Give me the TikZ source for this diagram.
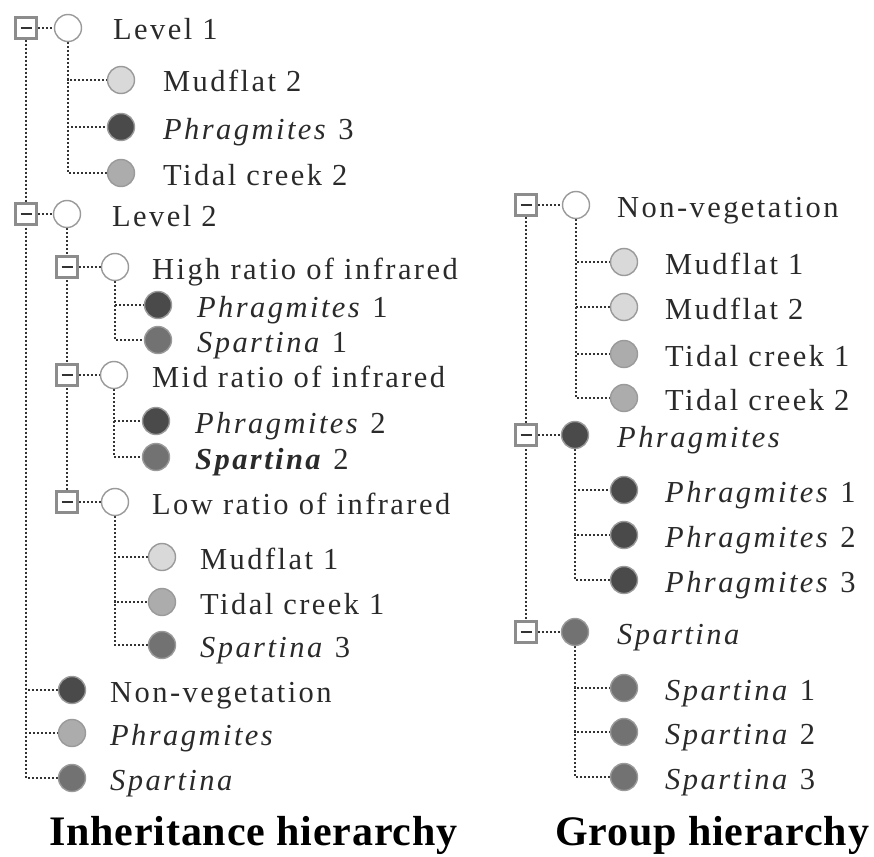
\documentclass[tikz,border=0pt]{standalone}
\usepackage{fontspec}
\setmainfont{Liberation Serif}[LetterSpace=8]
\newfontfamily\titlefont{Liberation Serif}[LetterSpace=2]
\usetikzlibrary{backgrounds}
\definecolor{txt}{HTML}{2A2A2A}
\definecolor{boxgray}{HTML}{8C8C8C}
\definecolor{circgray}{HTML}{9A9A9A}
\definecolor{connc}{HTML}{333333}
\definecolor{cwhite}{HTML}{FFFFFF}
\definecolor{clight}{HTML}{D9D9D9}
\definecolor{cmid}{HTML}{ACACAC}
\definecolor{cdark}{HTML}{4A4A4A}
\definecolor{cspart}{HTML}{727272}
\tikzset{
  minusbox/.style={draw=boxgray, line width=2.6pt, fill=white, minimum size=21pt, inner sep=0pt,
    path picture={\draw[line width=2.4pt, draw=black!80]
      ([xshift=-5.5pt]path picture bounding box.center) -- ([xshift=5.5pt]path picture bounding box.center);}},
  dot/.style={circle, minimum size=27pt, inner sep=0pt, draw=circgray, line width=1.4pt, fill=#1},
  conn/.style={draw=connc, line width=2pt, dash pattern=on 2pt off 2pt},
  lbl/.style={anchor=base west, inner sep=0pt, text=txt, font=\fontsize{30.5}{36}\selectfont},
  ttl/.style={anchor=base west, inner sep=0pt, text=black, font=\fontsize{42}{50}\selectfont\titlefont\bfseries}
}
\begin{document}
\begin{tikzpicture}[x=1pt,y=-1pt]
\useasboundingbox (0,0) rectangle (874,856);
% ---------- Inheritance hierarchy ----------
\node[minusbox] (b1) at (26,28) {};
\node[dot=cwhite] (c1) at (68,28) {};
\node[lbl] (tL1) at (113,40) {Level 1};
\node[dot=clight] (a1) at (121,80) {};
\node[lbl] (ta1) at (163,92) {Mudflat 2};
\node[dot=cdark] (a2) at (121,127) {};
\node[lbl] (ta2) at (163,139) {\itshape Phragmites\/ \upshape 3};
\node[dot=cmid] (a3) at (121,173) {};
\node[lbl] (ta3) at (163,185) {Tidal creek 2};

\node[minusbox] (b2) at (26,214) {};
\node[dot=cwhite] (c2) at (67,214) {};
\node[lbl] (tL2) at (112,226) {Level 2};

\node[minusbox] (bh) at (67,267) {};
\node[dot=cwhite] (ch) at (115,267) {};
\node[lbl] (th) at (152,279) {High ratio of infrared};
\node[dot=cdark] (h1) at (158,305) {};
\node[lbl] (th1) at (197,317) {\itshape Phragmites\/ \upshape 1};
\node[dot=cspart] (h2) at (158,340) {};
\node[lbl] (th2) at (197,352) {\itshape Spartina\/ \upshape 1};

\node[minusbox] (bm) at (67,375) {};
\node[dot=cwhite] (cm) at (114,375) {};
\node[lbl] (tm) at (152,387) {Mid ratio of infrared};
\node[dot=cdark] (m1) at (156,421) {};
\node[lbl] (tm1) at (195,433) {\itshape Phragmites\/ \upshape 2};
\node[dot=cspart] (m2) at (156,457) {};
\node[lbl] (tm2) at (195,469) {\bfseries\itshape Spartina\/ \mdseries\upshape 2};

\node[minusbox] (bl) at (67,502) {};
\node[dot=cwhite] (cl) at (115,502) {};
\node[lbl] (tl) at (152,514) {Low ratio of infrared};
\node[dot=clight] (l1) at (162,557) {};
\node[lbl] (tl1) at (200,569) {Mudflat 1};
\node[dot=cmid] (l2) at (162,602) {};
\node[lbl] (tl2) at (200,614) {Tidal creek 1};
\node[dot=cspart] (l3) at (162,645) {};
\node[lbl] (tl3) at (200,657) {\itshape Spartina\/ \upshape 3};

\node[dot=cdark] (n1) at (72,690) {};
\node[lbl] (tn1) at (110,702) {Non-vegetation};
\node[dot=cmid] (n2) at (72,733) {};
\node[lbl] (tn2) at (110,745) {\itshape Phragmites};
\node[dot=cspart] (n3) at (72,778) {};
\node[lbl] (tn3) at (110,790) {\itshape Spartina};

\node[ttl] (tit1) at (49,845) {Inheritance hierarchy};

% ---------- Group hierarchy ----------
\node[minusbox] (r1) at (526,205) {};
\node[dot=cwhite] (rc1) at (576,205) {};
\node[lbl] (tr1) at (617,217) {Non-vegetation};
\node[dot=clight] (g1) at (624,262) {};
\node[lbl] (tg1) at (665,274) {Mudflat 1};
\node[dot=clight] (g2) at (624,307) {};
\node[lbl] (tg2) at (665,319) {Mudflat 2};
\node[dot=cmid] (g3) at (624,354) {};
\node[lbl] (tg3) at (665,366) {Tidal creek 1};
\node[dot=cmid] (g4) at (624,398) {};
\node[lbl] (tg4) at (665,410) {Tidal creek 2};

\node[minusbox] (r2) at (526,435) {};
\node[dot=cdark] (rc2) at (575,435) {};
\node[lbl] (tr2) at (617,447) {\itshape Phragmites};
\node[dot=cdark] (p1) at (624,490) {};
\node[lbl] (tp1) at (665,502) {\itshape Phragmites\/ \upshape 1};
\node[dot=cdark] (p2) at (624,535) {};
\node[lbl] (tp2) at (665,547) {\itshape Phragmites\/ \upshape 2};
\node[dot=cdark] (p3) at (624,580) {};
\node[lbl] (tp3) at (665,592) {\itshape Phragmites\/ \upshape 3};

\node[minusbox] (r3) at (526,632) {};
\node[dot=cspart] (rc3) at (575,632) {};
\node[lbl] (tr3) at (617,644) {\itshape Spartina};
\node[dot=cspart] (s1) at (624,688) {};
\node[lbl] (ts1) at (665,700) {\itshape Spartina\/ \upshape 1};
\node[dot=cspart] (s2) at (624,732) {};
\node[lbl] (ts2) at (665,744) {\itshape Spartina\/ \upshape 2};
\node[dot=cspart] (s3) at (624,777) {};
\node[lbl] (ts3) at (665,789) {\itshape Spartina\/ \upshape 3};

\node[ttl] (tit2) at (555,845) {Group hierarchy};

% ---------- connectors ----------
\begin{pgfonlayer}{background}
\draw[conn] (b1.south) |- (n1.west);
\draw[conn] (b1.south) |- (n2.west);
\draw[conn] (b1.south) |- (n3.west);
\draw[conn] (b1.east) -- (c1.west);
\draw[conn] (c1.south) |- (a1.west);
\draw[conn] (c1.south) |- (a2.west);
\draw[conn] (c1.south) |- (a3.west);
\draw[conn] (b2.east) -- (c2.west);
\draw[conn] (c2.south) -- (bl.north);
\draw[conn] (bh.east) -- (ch.west);
\draw[conn] (ch.south) |- (h1.west);
\draw[conn] (ch.south) |- (h2.west);
\draw[conn] (bm.east) -- (cm.west);
\draw[conn] (cm.south) |- (m1.west);
\draw[conn] (cm.south) |- (m2.west);
\draw[conn] (bl.east) -- (cl.west);
\draw[conn] (cl.south) |- (l1.west);
\draw[conn] (cl.south) |- (l2.west);
\draw[conn] (cl.south) |- (l3.west);

\draw[conn] (r1.south) -- (r3.north);
\draw[conn] (r1.east) -- (rc1.west);
\draw[conn] (rc1.south) |- (g1.west);
\draw[conn] (rc1.south) |- (g2.west);
\draw[conn] (rc1.south) |- (g3.west);
\draw[conn] (rc1.south) |- (g4.west);
\draw[conn] (r2.east) -- (rc2.west);
\draw[conn] (rc2.south) |- (p1.west);
\draw[conn] (rc2.south) |- (p2.west);
\draw[conn] (rc2.south) |- (p3.west);
\draw[conn] (r3.east) -- (rc3.west);
\draw[conn] (rc3.south) |- (s1.west);
\draw[conn] (rc3.south) |- (s2.west);
\draw[conn] (rc3.south) |- (s3.west);
\end{pgfonlayer}
\end{tikzpicture}
\end{document}
